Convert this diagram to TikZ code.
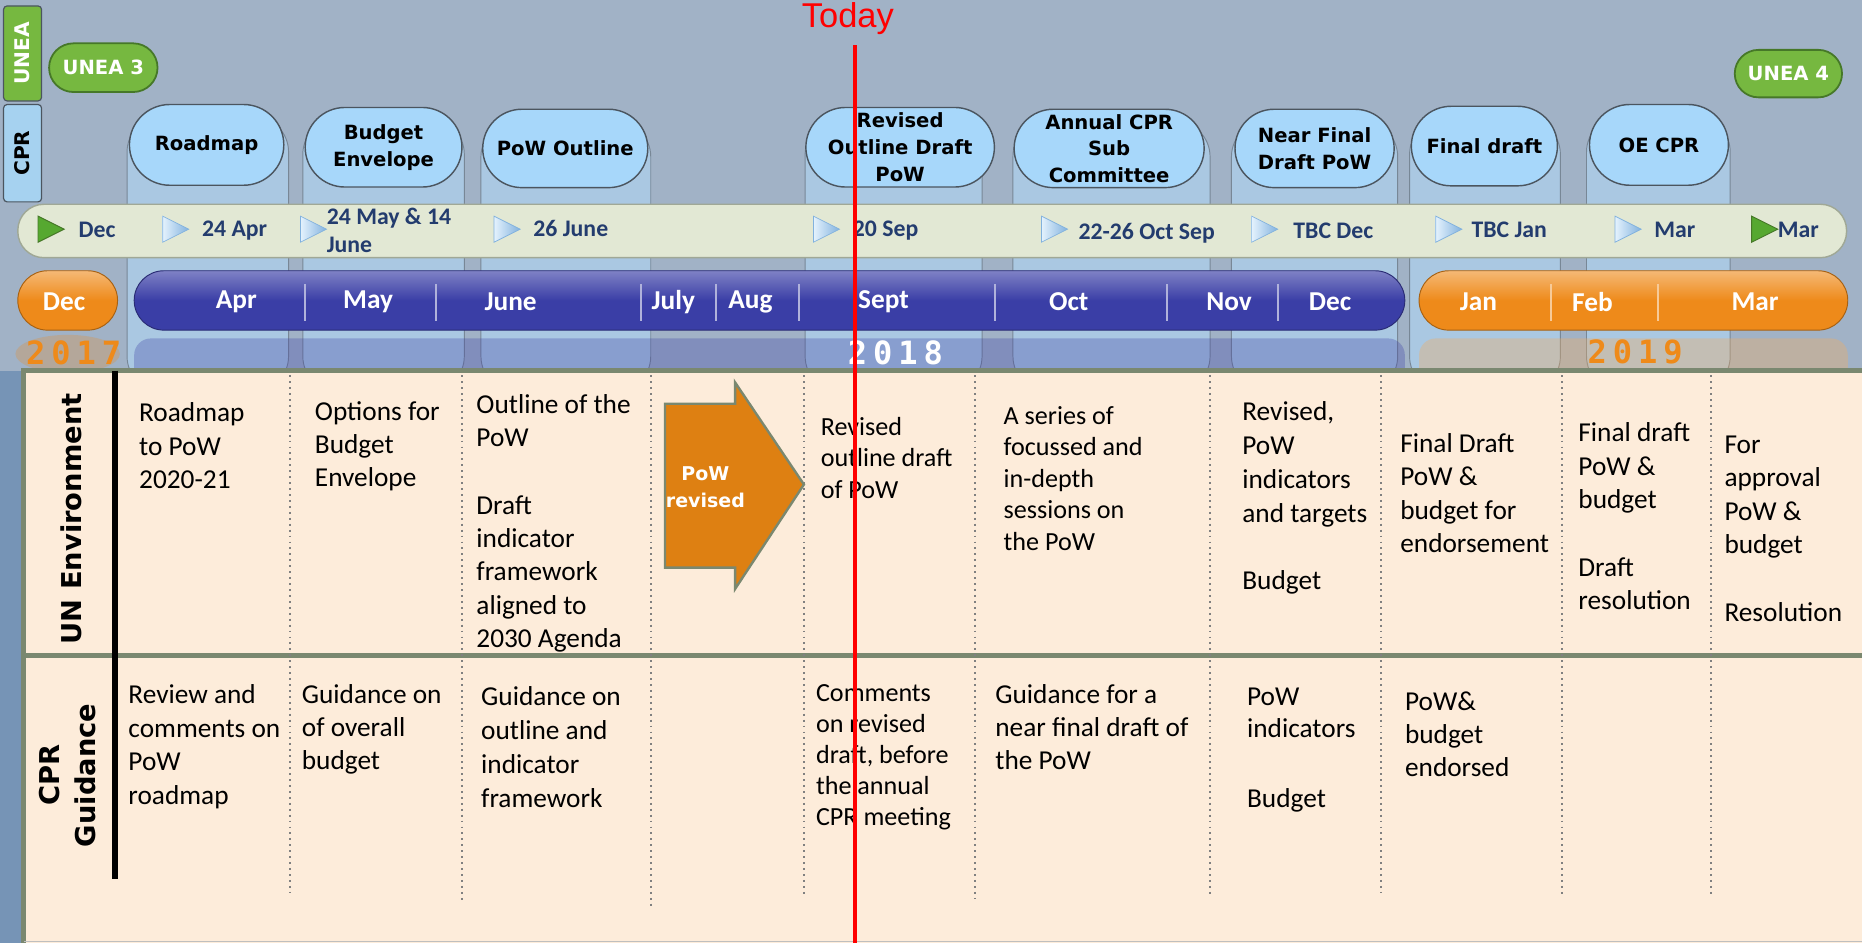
\documentclass[tikz,border=0pt]{standalone}
\usepackage{fontspec}
\setmainfont{Carlito}
\newfontfamily\vfont{DejaVu Sans}
\newfontfamily\mfont{DejaVu Sans Mono}
\newfontfamily\afont{Liberation Sans}
\usetikzlibrary{positioning,shapes.misc}

\definecolor{bgblue}{RGB}{161,178,198}
\definecolor{sideblue}{RGB}{118,148,182}
\definecolor{stripblue}{RGB}{170,200,226}
\definecolor{stripedge}{RGB}{120,135,150}
\definecolor{bubblefill}{RGB}{167,215,250}
\definecolor{bubbleedge}{RGB}{75,85,95}
\definecolor{peach}{RGB}{253,236,218}
\definecolor{rulegreen}{RGB}{122,136,112}
\definecolor{bandfill}{RGB}{226,232,212}
\definecolor{bandedge}{RGB}{160,168,150}
\definecolor{barblue}{RGB}{58,62,166}
\definecolor{barorange}{RGB}{238,138,26}
\definecolor{unegreen}{RGB}{118,184,64}
\definecolor{unedge}{RGB}{70,120,40}
\definecolor{cprtab}{RGB}{166,210,240}
\definecolor{datetext}{RGB}{35,60,110}
\definecolor{arroworange}{RGB}{222,128,18}
\definecolor{trilight}{RGB}{228,242,253}
\definecolor{tridark}{RGB}{130,178,222}
\definecolor{tegreen}{RGB}{86,168,48}

\newcommand\spacedyear[4]{#1\kern5pt #2\kern5pt #3\kern5pt #4}

\tikzset{
  bubble/.style={rounded rectangle, rounded rectangle arc length=180, draw=bubbleedge,
    line width=1.2pt, fill=bubblefill, align=center, inner sep=2pt,
    font={\vfont\bfseries\fontsize{16.5}{22.5}\selectfont}},
  strip/.style={fill=stripblue, draw=stripedge, line width=0.8pt, rounded corners=30pt},
  pill/.style={rounded rectangle, fill=unegreen, draw=unedge, line width=1.5pt,
    text=white, font={\vfont\bfseries\fontsize{16.5}{20}\selectfont}},
  sidetab/.style={rotate=90, draw=bubbleedge, line width=1pt, rounded corners=3pt,
    minimum height=32pt, font={\vfont\bfseries\fontsize{17}{20}\selectfont}},
  playtri/.style={left color=trilight, right color=tridark, draw=tridark, line width=0.6pt},
  greentri/.style={fill=tegreen, draw=unedge, line width=0.8pt},
  datelbl/.style={anchor=base west, inner sep=0pt, text=datetext,
    font={\bfseries\fontsize{20}{24}\selectfont}},
  month/.style={text=white, font={\bfseries\fontsize{23}{28}\selectfont}},
  monthsep/.style={draw=white!60!barblue, line width=1.5pt},
  yeartext/.style={font={\mfont\bfseries\fontsize{27}{30}\selectfont}},
  rowrule/.style={draw=rulegreen, line width=4pt},
  sepline/.style={draw=gray, line width=1.6pt, dash pattern=on 1.6pt off 3.4pt},
  cell/.style={anchor=north west, align=left, inner sep=0pt,
    font={\fontsize{23}{28}\selectfont}},
  rowlabel/.style={rotate=90, align=center, font={\vfont\bfseries\fontsize{23}{30}\selectfont}},
}

\begin{document}
\begin{tikzpicture}[x=1pt,y=-1pt]
\useasboundingbox (0,0) rectangle (1568,794);
\fill[bgblue] (0,0) rectangle (1568,794);
\fill[sideblue] (0,312) rectangle (20,794);

% columns behind the bubbles
\foreach \xa/\xb/\yt in {107/243/98, 255/391/100, 405/548/102, 678/827/100,
  853/1019/102, 1037/1177/102, 1187/1314/100, 1336/1457/98}
  \draw[strip] (\xa,\yt) rectangle (\xb,330);

% UNEA / CPR tabs
\node[sidetab, fill=unegreen, text=white, minimum width=80pt] (uneatab) at (19,45) {UNEA};
\node[sidetab, fill=cprtab, minimum width=82pt] (cprtab) at (19,129) {CPR};
\node[pill, minimum width=98pt, minimum height=41pt] (unea3) at (87,57) {UNEA 3};
\node[pill, minimum width=97pt, minimum height=40pt] (unea4) at (1506,62) {UNEA 4};

% CPR milestones
\node[bubble, minimum width=134pt, minimum height=68pt] (roadmap) at (174,122) {Roadmap};
\node[bubble, minimum width=136pt, minimum height=67pt] (envelope) at (323,124) {Budget\\Envelope};
\node[bubble, minimum width=143pt, minimum height=66pt] (outline) at (476,125) {PoW Outline};
\node[bubble, minimum width=141pt, minimum height=67pt] (revdraft) at (758,124) {Revised\\Outline Draft\\PoW};
\node[bubble, minimum width=164pt, minimum height=66pt] (subcom) at (934,125) {Annual CPR\\Sub\\Committee};
\node[bubble, minimum width=138pt, minimum height=66pt] (nearfinal) at (1107,125) {Near Final\\Draft PoW};
\node[bubble, minimum width=127pt, minimum height=67pt] (finaldraft) at (1250,123) {Final draft};
\node[bubble, minimum width=121pt, minimum height=68pt] (oecpr) at (1397,122) {OE CPR};

% dates band
\draw[fill=bandfill, draw=bandedge, line width=1.2pt, rounded corners=22pt] (15,172) rectangle (1555,217);
\foreach \x in {137,253,416,685,877,1054,1209,1360}
  \draw[playtri] (\x,182) -- (\x+22,193) -- (\x,204) -- cycle;
\foreach \x in {32,1475}
  \draw[greentri] (\x,182) -- (\x+22,193) -- (\x,204) -- cycle;
\node[datelbl] (dDec) at (66,200) {Dec};
\node[datelbl] (dApr) at (170,199) {24 Apr};
\node[datelbl, anchor=west, align=left, font={\bfseries\fontsize{20}{24}\selectfont}] (dMay) at (275,194) {24 May \& 14\\June};
\node[datelbl] (dJune) at (449,199) {26 June};
\node[datelbl] (dSep) at (718,199) {20 Sep};
\node[datelbl] (dOct) at (908,202) {22-26 Oct Sep};
\node[datelbl] (dDecb) at (1089,201) {TBC Dec};
\node[datelbl] (dJan) at (1239,200) {TBC Jan};
\node[datelbl] (dMar) at (1393,200) {Mar};
\node[datelbl] (dMarb) at (1497,200) {Mar};

% month bars
\path[draw=barorange!70!black, line width=0.8pt, top color=barorange!60!white, bottom color=barorange, middle color=barorange, rounded corners=25pt] (15,228) rectangle (99,278);
\path[draw=barblue!70!black, line width=0.8pt, top color=barblue!65!white, bottom color=barblue, middle color=barblue, rounded corners=25pt] (113,228) rectangle (1183,278);
\path[draw=barorange!70!black, line width=0.8pt, top color=barorange!60!white, bottom color=barorange, middle color=barorange, rounded corners=25pt] (1195,228) rectangle (1556,278);
\foreach \x in {257,367,540,603,673,838,983,1076}
  \draw[monthsep] (\x,239) -- (\x,270);
\foreach \x in {1306,1396}
  \draw[draw=white!55!barorange, line width=1.5pt] (\x,239) -- (\x,270);
\foreach \x/\m in {54/Dec, 199/Apr, 310/May, 430/June, 567/July, 632/Aug, 744/Sept,
  900/Oct, 1035/Nov, 1120/Dec, 1245/Jan, 1341/Feb, 1478/Mar}
  \node[month] (m\x) at (\x,254) {\m};

% year bands
\fill[barorange, opacity=0.25] (57,298) ellipse (44pt and 16pt);
\fill[barblue, opacity=0.3, rounded corners=14pt] (113,285) rectangle (1183,330);
\fill[barorange!70!white, opacity=0.35, rounded corners=14pt] (1195,285) rectangle (1556,330);
\node[yeartext, text=barorange] (y2017) at (62,297) {\spacedyear2017};
\node[yeartext, text=white] (y2018) at (754,297) {\spacedyear2018};
\node[yeartext, text=barorange] (y2019) at (1377,296) {\spacedyear2019};

% table
\fill[peach] (20,312) rectangle (1568,794);
\draw[rowrule] (18,312) -- (1568,312);
\draw[rowrule] (20,552) -- (1568,552);
\draw[rowrule] (20,310) -- (20,794);
\draw[draw=gray!50, line width=1pt] (20,793) -- (1568,793);
\foreach \x/\yb in {244/752, 389/760, 548/765, 677/755, 821/757, 1019/755, 1163/752, 1315/755, 1441/755}
  \draw[sepline] (\x,316) -- (\x,\yb);
\draw[line width=5pt] (97,312) -- (97,740);
\node[rowlabel] (unenv) at (60,437) {UN Environment};
\node[rowlabel] (cprguid) at (57,653) {CPR\\Guidance};

% PoW revised arrow
\draw[fill=arroworange, draw=rulegreen, line width=2pt] (560,340) -- (619,340) -- (619,322)
  -- (677,408) -- (619,496) -- (619,478) -- (560,478) -- cycle;
\node[text=white, align=center, font={\vfont\bfseries\fontsize{16}{23}\selectfont}] (powrev) at (594,410) {PoW\\revised};

% UN Environment row
\node[cell] (ue1) at (117,339) {Roadmap\\to PoW\\2020-21};
\node[cell] (ue2) at (265,338) {Options for\\Budget\\Envelope};
\node[cell] (ue3) at (401,332) {Outline of the\\PoW\\[29pt]Draft\\indicator\\framework\\aligned to\\2030 Agenda};
\node[cell, font={\fontsize{22}{26.5}\selectfont}] (ue5) at (691,351) {Revised\\outline draft\\of PoW};
\node[cell, font={\fontsize{22}{26.5}\selectfont}] (ue6) at (845,342) {A series of\\focussed and\\in-depth\\sessions on\\the PoW};
\node[cell, font={\fontsize{23}{28.5}\selectfont}] (ue7) at (1046,338) {Revised,\\PoW\\indicators\\and targets\\[28pt]Budget};
\node[cell] (ue8) at (1179,365) {Final Draft\\PoW \&\\budget for\\endorsement};
\node[cell] (ue9) at (1329,356) {Final draft\\PoW \&\\budget\\[29pt]Draft\\resolution};
\node[cell] (ue10) at (1452,367) {For\\approval\\PoW \&\\budget\\[29pt]Resolution};

% CPR Guidance row
\node[cell, font={\fontsize{23}{28.5}\selectfont}] (cg1) at (108,576) {Review and\\comments on\\PoW\\roadmap};
\node[cell] (cg2) at (254,576) {Guidance on\\of overall\\budget};
\node[cell, font={\fontsize{23}{28.5}\selectfont}] (cg3) at (405,578) {Guidance on\\outline and\\indicator\\framework};
\node[cell, font={\fontsize{22}{26.2}\selectfont}] (cg5) at (687,576) {Comments\\on revised\\draft, before\\the annual\\CPR meeting};
\node[cell] (cg6) at (838,576) {Guidance for a\\near final draft of\\the PoW};
\node[cell, font={\fontsize{23}{27}\selectfont}] (cg7) at (1050,579) {PoW\\indicators\\[32pt]Budget};
\node[cell] (cg8) at (1183,582) {PoW\&\\budget\\endorsed};

% today marker
\node[text=red, font={\afont\fontsize{29}{34}\selectfont}] (today) at (714,16) {Today};
\coordinate (todaytop) at (720,38);
\coordinate (todaybot) at (720,794);
\draw[red, line width=4pt] (todaytop) -- (todaybot);
\end{tikzpicture}
\end{document}
